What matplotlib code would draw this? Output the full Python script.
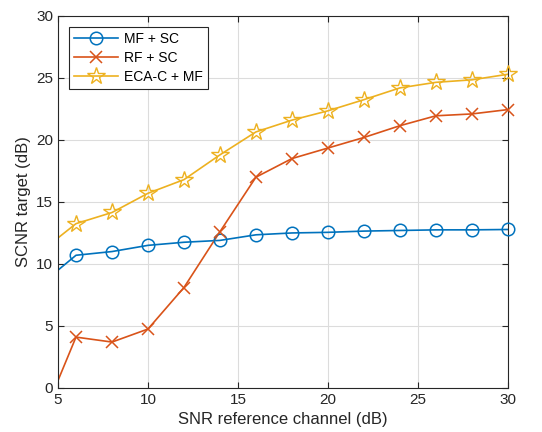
import numpy as np
import matplotlib
matplotlib.use("Agg")
import matplotlib.pyplot as plt
from matplotlib.lines import Line2D

plt.rcParams['font.family'] = ['Liberation Sans', 'DejaVu Sans']

# SNR of the reference channel (dB); first point lies left of the visible range
snr_ref = [4, 6, 8, 10, 12, 14, 16, 18, 20, 22, 24, 26, 28, 30]

scnr_mf_sc = [8.3, 10.7, 11.0, 11.5, 11.75, 11.9, 12.35, 12.5, 12.55, 12.65, 12.7, 12.75, 12.75, 12.78]
scnr_rf_sc = [-2.9, 4.1, 3.7, 4.75, 8.1, 12.6, 17.0, 18.5, 19.35, 20.2, 21.15, 21.95, 22.1, 22.45]
scnr_eca_mf = [10.95, 13.25, 14.15, 15.7, 16.8, 18.8, 20.65, 21.6, 22.35, 23.25, 24.2, 24.65, 24.85, 25.3]

labels = ['MF + SC', 'RF + SC', 'ECA-C + MF']
colors = ['#0072BD', '#D95319', '#EDB120']
styles = [
    dict(marker='o', markersize=9, markerfacecolor='none', markeredgewidth=1.1),
    dict(marker='x', markersize=8, markeredgewidth=1.1),
    dict(marker='*', markersize=13, markerfacecolor='none', markeredgewidth=1.0),
]
series = [scnr_mf_sc, scnr_rf_sc, scnr_eca_mf]

fig = plt.figure(figsize=(5.42, 4.32), dpi=100)
ax = fig.add_axes([0.107, 0.102, 0.83, 0.861])

xlo, xhi = 5, 30
handles = []
for y, c, st, lab in zip(series, colors, styles, labels):
    # lines are clipped at the axes, markers inside the range stay whole
    ax.plot(snr_ref, y, color=c, linewidth=1.2)
    xs = [x for x in snr_ref if xlo <= x <= xhi]
    ys = [v for x, v in zip(snr_ref, y) if xlo <= x <= xhi]
    ax.plot(xs, ys, linestyle='none', color=c, clip_on=False, zorder=3, **st)
    handles.append(Line2D([], [], color=c, linewidth=1.2, label=lab, **st))

ax.set_xlim(xlo, xhi)
ax.set_ylim(0, 30)
ax.set_xticks(np.arange(5, 31, 5))
ax.set_yticks(np.arange(0, 31, 5))
ax.grid(True, color='#dcdcdc', linewidth=0.8)
ax.set_axisbelow(True)

ax.tick_params(direction='in', top=True, right=True, labelsize=11, colors='#262626', length=4)
for s in ax.spines.values():
    s.set_color('#262626')
    s.set_linewidth(0.8)

ax.set_xlabel('SNR reference channel (dB)', fontsize=12, color='#262626')
ax.set_ylabel('SCNR target (dB)', fontsize=12, color='#262626')

leg = ax.legend(handles=handles, loc='upper left', fontsize=10, fancybox=False,
                framealpha=1, edgecolor='#262626', handlelength=3.2,
                handletextpad=0.4, borderaxespad=0.8, labelspacing=0.35,
                borderpad=0.35)
leg.get_frame().set_linewidth(0.8)

fig.savefig('out.png', dpi=100)
